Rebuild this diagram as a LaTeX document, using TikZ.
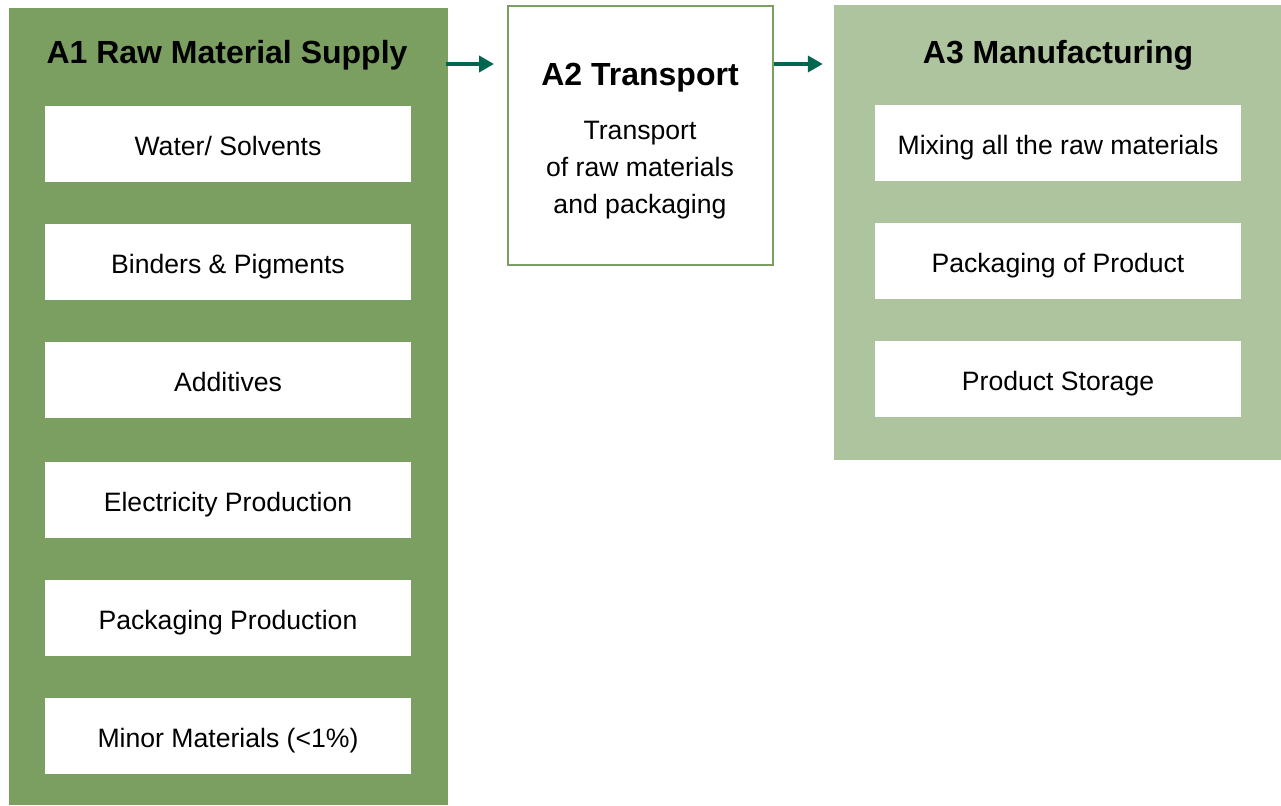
\documentclass[tikz,border=0pt]{standalone}
\usepackage{fontspec}
\setmainfont{Liberation Sans}
\usetikzlibrary{arrows.meta}
\definecolor{darkgr}{HTML}{7A9F60}
\definecolor{lightgr}{HTML}{AEC49E}
\definecolor{teal}{HTML}{006650}
\tikzset{
  item/.style={fill=white, minimum width=366pt, minimum height=76pt, inner sep=0pt,
    text height=22.8pt, text depth=0pt,
    font=\fontsize{26.6}{31}\selectfont},
  title/.style={font=\bfseries\fontsize{32}{38}\selectfont, inner sep=0pt},
  flow/.style={teal, line width=4pt, -{Triangle[length=15pt,width=16pt]}}
}
\begin{document}
\begin{tikzpicture}[x=1pt,y=-1pt]
\useasboundingbox (0,0) rectangle (1281,805);
% A1
\node[fill=darkgr, minimum width=439pt, minimum height=797pt, inner sep=0pt] (A1) at (228.5,406.5) {};
\node[title] (t1) at (227,55) {A1 Raw Material Supply};
\node[item] (w1) at (228,144) {Water/ Solvents};
\node[item] (w2) at (228,262) {Binders \& Pigments};
\node[item] (w3) at (228,380) {Additives};
\node[item] (w4) at (228,500) {Electricity Production};
\node[item] (w5) at (228,618) {Packaging Production};
\node[item] (w6) at (228,736) {Minor Materials (<1\%)};
% A2
\node[draw=darkgr, line width=2pt, fill=white, minimum width=265pt, minimum height=259pt, inner sep=0pt] (A2) at (640.5,135.5) {};
\node[title] (t2) at (640,78) {A2 Transport};
\node[align=center, inner sep=0pt, font=\fontsize{26.6}{37}\selectfont] (b2) at (640,170) {Transport\\of raw materials\\and packaging};
% A3
\node[fill=lightgr, minimum width=447pt, minimum height=455pt, inner sep=0pt] (A3) at (1057.5,232.5) {};
\node[title] (t3) at (1058,55) {A3 Manufacturing};
\node[item] (m1) at (1058,143) {Mixing all the raw materials};
\node[item] (m2) at (1058,261) {Packaging of Product};
\node[item] (m3) at (1058,379) {Product Storage};
% arrows
\coordinate (ar) at (0,64);
\draw[flow, shorten <=-2pt, shorten >=13pt] (A1.east |- ar) -- (A2.west |- ar);
\draw[flow, shorten >=11pt] (A2.east |- ar) -- (A3.west |- ar);
\end{tikzpicture}
\end{document}
